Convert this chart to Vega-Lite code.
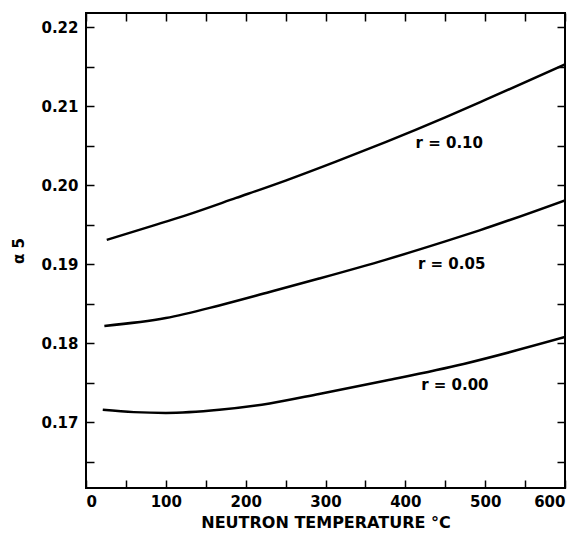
{
  "$schema": "https://vega.github.io/schema/vega-lite/v6.json",
  "autosize": {"type": "none"},
  "width": 479,
  "height": 475,
  "padding": {"left": 86, "top": 13, "right": 13, "bottom": 52},
  "background": "white",
  "config": {
    "view": {"stroke": "black", "strokeWidth": 2},
    "axis": {"grid": false, "domain": false, "tickColor": "black", "tickWidth": 1.5, "labelColor": "black", "titleColor": "black", "labelFont": "DejaVu Sans", "titleFont": "DejaVu Sans", "labelFontWeight": "bold", "titleFontWeight": "bold", "labelFontSize": 15, "titleFontSize": 15}
  },
  "datasets": {
    "curves": [
      {"r": "0.10", "t": 26, "a": 0.1931},
      {"r": "0.10", "t": 84, "a": 0.1949},
      {"r": "0.10", "t": 125, "a": 0.1962},
      {"r": "0.10", "t": 188, "a": 0.1984},
      {"r": "0.10", "t": 250, "a": 0.2006},
      {"r": "0.10", "t": 313, "a": 0.2030},
      {"r": "0.10", "t": 376, "a": 0.2055},
      {"r": "0.10", "t": 450, "a": 0.2086},
      {"r": "0.10", "t": 500, "a": 0.2108},
      {"r": "0.10", "t": 600, "a": 0.2153},
      {"r": "0.05", "t": 23, "a": 0.1822},
      {"r": "0.05", "t": 100, "a": 0.1832},
      {"r": "0.05", "t": 167, "a": 0.1848},
      {"r": "0.05", "t": 230, "a": 0.1865},
      {"r": "0.05", "t": 292, "a": 0.1882},
      {"r": "0.05", "t": 376, "a": 0.1906},
      {"r": "0.05", "t": 450, "a": 0.1929},
      {"r": "0.05", "t": 493, "a": 0.1943},
      {"r": "0.05", "t": 600, "a": 0.1981},
      {"r": "0.00", "t": 21, "a": 0.1716},
      {"r": "0.00", "t": 60, "a": 0.1713},
      {"r": "0.00", "t": 100, "a": 0.1712},
      {"r": "0.00", "t": 167, "a": 0.1716},
      {"r": "0.00", "t": 230, "a": 0.1724},
      {"r": "0.00", "t": 292, "a": 0.1736},
      {"r": "0.00", "t": 376, "a": 0.1753},
      {"r": "0.00", "t": 473, "a": 0.1774},
      {"r": "0.00", "t": 600, "a": 0.1808}
    ],
    "labels": [
      {"txt": "r = 0.10", "t": 455, "a": 0.2054},
      {"txt": "r = 0.05", "t": 458, "a": 0.1900},
      {"txt": "r = 0.00", "t": 462, "a": 0.1747}
    ]
  },
  "resolve": {"axis": {"x": "independent", "y": "independent"}},
  "layer": [
    {
      "data": {"name": "curves"},
      "mark": {"type": "line", "color": "black", "strokeWidth": 2.5, "interpolate": "monotone", "clip": true},
      "encoding": {
        "x": {
          "field": "t", "type": "quantitative",
          "scale": {"domain": [0, 600], "nice": false, "zero": false},
          "axis": {"orient": "bottom", "title": "NEUTRON TEMPERATURE °C", "titleFontSize": 16, "values": [0,50,100,150,200,250,300,350,400,450,500,550,600], "tickSize": -8, "labelPadding": 14, "titlePadding": 5, "labelExpr": "datum.value % 100 == 0 ? datum.label : ''"}
        },
        "y": {
          "field": "a", "type": "quantitative",
          "scale": {"domain": [0.1617, 0.2218], "nice": false, "zero": false},
          "axis": {"orient": "left", "title": "α 5", "values": [0.165,0.17,0.175,0.18,0.185,0.19,0.195,0.2,0.205,0.21,0.215,0.22], "tickSize": -8, "labelPadding": 16, "titlePadding": 14, "labelExpr": "abs(datum.value*100 - round(datum.value*100)) < 0.01 ? format(datum.value, '.2f') : ''"}
        },
        "detail": {"field": "r"}
      }
    },
    {
      "data": {"name": "curves"},
      "mark": {"type": "point", "opacity": 0},
      "encoding": {
        "x": {"field": "t", "type": "quantitative", "axis": {"orient": "top", "title": null, "labels": false, "values": [0,50,100,150,200,250,300,350,400,450,500,550,600], "tickSize": -8}},
        "y": {"field": "a", "type": "quantitative", "axis": {"orient": "right", "title": null, "labels": false, "values": [0.165,0.17,0.175,0.18,0.185,0.19,0.195,0.2,0.205,0.21,0.215,0.22], "tickSize": -8}}
      }
    },
    {
      "data": {"name": "labels"},
      "mark": {"type": "text", "font": "DejaVu Sans", "fontSize": 15, "fontWeight": "bold", "color": "black", "align": "center", "baseline": "middle"},
      "encoding": {
        "x": {"field": "t", "type": "quantitative", "axis": null},
        "y": {"field": "a", "type": "quantitative", "axis": null},
        "text": {"field": "txt"}
      }
    }
  ]
}
